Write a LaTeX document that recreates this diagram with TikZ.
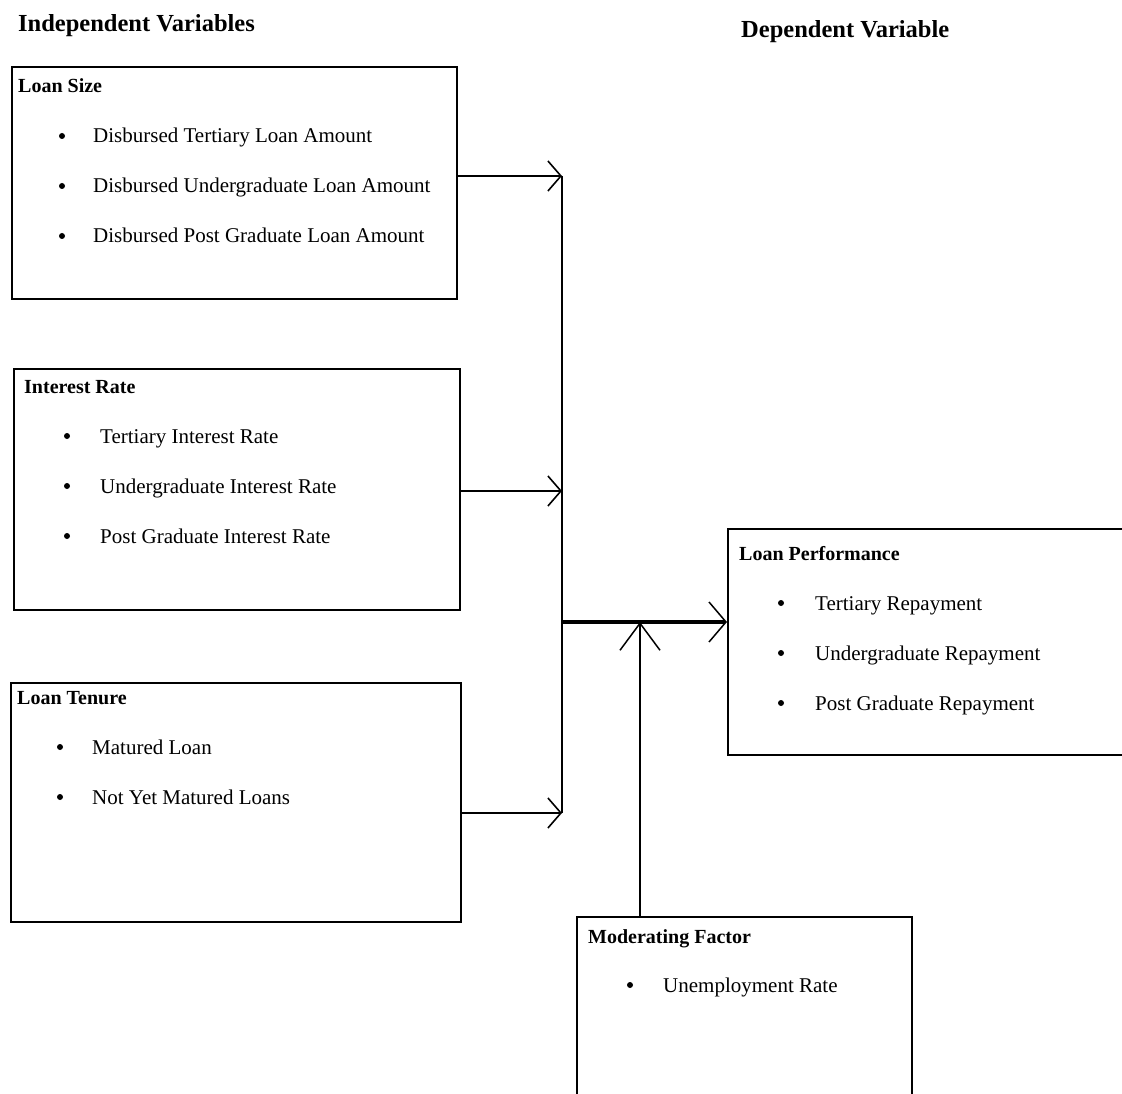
\documentclass[tikz,border=0pt]{standalone}
\usepackage{fontspec}
\setmainfont{Liberation Serif}
\usetikzlibrary{arrows.meta}
\begin{document}
\begin{tikzpicture}[x=1pt,y=-1pt,
  box/.style={draw, line width=1.8pt, inner sep=0pt, anchor=north west},
  title/.style={anchor=base west, inner sep=0pt, font=\fontsize{24.5}{28}\selectfont\bfseries},
  head/.style={anchor=base west, inner sep=0pt, font=\fontsize{20}{24}\selectfont\bfseries},
  item/.style={anchor=base west, inner sep=0pt, font=\fontsize{21}{25}\selectfont},
  bul/.style={circle, fill, inner sep=0pt, minimum size=6pt},
  wire/.style={line width=1.8pt},
  conn/.style={line width=1.8pt, -{Straight Barb[length=13pt,width=30pt,line width=1.6pt]}},
  bigconn/.style={line width=4.5pt, -{Straight Barb[length=17pt,width=40pt,line width=1.5pt]}},
  upconn/.style={line width=1.8pt, -{Straight Barb[length=27pt,width=40pt,line width=1.5pt]}},
]
\clip (0,0) rectangle (1122,1094);
\fill[white] (0,0) rectangle (1122,1094);

% titles
\node[title] (tind) at (18,32) {Independent Variables};
\node[title] (tdep) at (741,38) {Dependent Variable};

% boxes
\node[box, minimum width=445pt, minimum height=232pt] (ls) at (11,66) {};
\node[box, minimum width=446pt, minimum height=241pt] (ir) at (13,368) {};
\node[box, minimum width=450pt, minimum height=239pt] (lt) at (10,682) {};
\node[box, minimum width=420pt, minimum height=226pt] (lp) at (727,528) {};
\node[box, minimum width=335pt, minimum height=200pt] (mf) at (576,916) {};

% Loan Size
\node[head] (lsh) at (18,93) {Loan Size};
\node[bul] (lsb1) at (62,136) {}; \node[item] (lsi1) at (93,143) {Disbursed Tertiary Loan Amount};
\node[bul] (lsb2) at (62,186) {}; \node[item] (lsi2) at (93,193) {Disbursed Undergraduate Loan Amount};
\node[bul] (lsb3) at (62,236) {}; \node[item] (lsi3) at (93,243) {Disbursed Post Graduate Loan Amount};

% Interest Rate
\node[head] (irh) at (24,393) {Interest Rate};
\node[bul] (irb1) at (67,436) {}; \node[item] (iri1) at (100,443) {Tertiary Interest Rate};
\node[bul] (irb2) at (67,486) {}; \node[item] (iri2) at (100,493) {Undergraduate Interest Rate};
\node[bul] (irb3) at (67,536) {}; \node[item] (iri3) at (100,543) {Post Graduate Interest Rate};

% Loan Tenure
\node[head] (lth) at (17,704) {Loan Tenure};
\node[bul] (ltb1) at (60,747) {}; \node[item] (lti1) at (92,754) {Matured Loan};
\node[bul] (ltb2) at (60,797) {}; \node[item] (lti2) at (92,804) {Not Yet Matured Loans};

% Loan Performance
\node[head] (lph) at (739,560) {Loan Performance};
\node[bul] (lpb1) at (781,603) {}; \node[item] (lpi1) at (815,610) {Tertiary Repayment};
\node[bul] (lpb2) at (781,653) {}; \node[item] (lpi2) at (815,660) {Undergraduate Repayment};
\node[bul] (lpb3) at (781,703) {}; \node[item] (lpi3) at (815,710) {Post Graduate Repayment};

% Moderating Factor
\node[head] (mfh) at (588,943) {Moderating Factor};
\node[bul] (mfb1) at (630,985) {}; \node[item] (mfi1) at (663,992) {Unemployment Rate};

% connectors
\coordinate (s1) at (562,176);
\coordinate (s2) at (562,491);
\coordinate (s3) at (562,813);
\coordinate (sm) at (562,622);
\coordinate (mt) at (640,622);

\draw[wire] (s1) -- (s3);
\draw[conn] (ls.east |- s1) -- (s1);
\draw[conn] (ir.east |- s2) -- (s2);
\draw[conn] (lt.east |- s3) -- (s3);
\draw[bigconn] (sm) -- (lp.west |- sm);
\draw[upconn] (mf.north -| mt) -- (mt);
\end{tikzpicture}
\end{document}
